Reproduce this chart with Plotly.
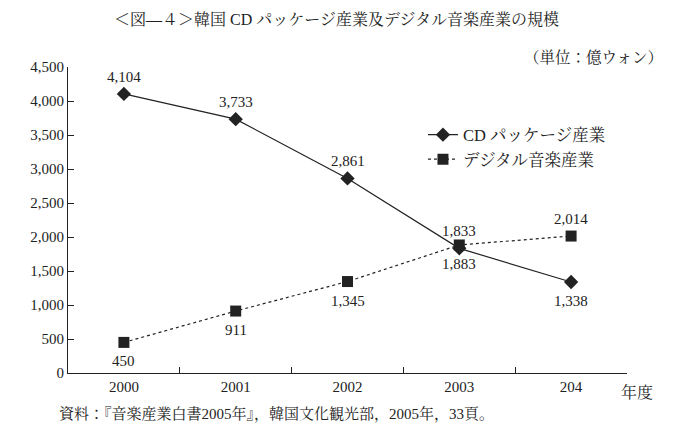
import plotly.graph_objects as go

years = ["2000", "2001", "2002", "2003", "204"]
cd_values = [4104, 3733, 2861, 1833, 1338]
digital_values = [450, 911, 1345, 1883, 2014]
cd_label_above = [True, True, True, True, False]
dg_label_above = [False, False, False, False, True]
y_ticks = [0, 500, 1000, 1500, 2000, 2500, 3000, 3500, 4000, 4500]

FONT = "Liberation Serif, Noto Serif CJK JP, Noto Sans CJK JP, serif"
INK = "#222222"

fig = go.Figure()
fig.add_trace(go.Scatter(
    x=years, y=cd_values, name="CD パッケージ産業",
    mode="lines+markers",
    line=dict(color=INK, width=1.2),
    marker=dict(symbol="diamond", size=11, color=INK),
    cliponaxis=False,
))
fig.add_trace(go.Scatter(
    x=years, y=digital_values, name="デジタル音楽産業",
    mode="lines+markers",
    line=dict(color=INK, width=1.2, dash="dot"),
    marker=dict(symbol="square", size=11, color=INK),
    cliponaxis=False,
))

annotations = []
for vals, above in ((cd_values, cd_label_above), (digital_values, dg_label_above)):
    for i, (v, a) in enumerate(zip(vals, above)):
        annotations.append(dict(
            x=i, y=v, xref="x", yref="y", text=f"{v:,}", showarrow=False,
            xanchor="center", yanchor="middle", yshift=17 if a else -19,
            font=dict(size=15, family=FONT, color=INK),
        ))

annotations += [
    dict(text="＜図―４＞韓国 CD パッケージ産業及デジタル音楽産業の規模",
         xref="paper", yref="paper", x=0.48, y=1.0, yshift=48,
         xanchor="center", yanchor="middle", showarrow=False,
         font=dict(size=16, family=FONT)),
    dict(text="（単位：億ウォン）",
         xref="paper", yref="paper", x=1.0, y=1.0, yshift=10, xshift=38,
         xanchor="right", yanchor="middle", showarrow=False,
         font=dict(size=15.5, family=FONT)),
    dict(text="年度",
         xref="paper", yref="paper", x=1.0, y=0, yshift=-19, xshift=-8,
         xanchor="left", yanchor="middle", showarrow=False,
         font=dict(size=16, family=FONT)),
    dict(text="資料：『音楽産業白書2005年』，韓国文化観光部，2005年，33頁。",
         xref="paper", yref="paper", x=0, y=0, yshift=-41, xshift=-11,
         xanchor="left", yanchor="middle", showarrow=False,
         font=dict(size=15, family=FONT)),
]

fig.update_layout(
    width=681, height=445,
    margin=dict(l=68, r=54, t=67, b=72),
    paper_bgcolor="white", plot_bgcolor="white",
    font=dict(family=FONT, color=INK, size=15),
    showlegend=True,
    legend=dict(x=0.635, y=0.835, xanchor="left", yanchor="top",
                bgcolor="rgba(0,0,0,0)", font=dict(size=16.5, family=FONT),
                itemwidth=30),
    xaxis=dict(
        type="category", showgrid=False, showline=True, linecolor=INK,
        linewidth=1.2, ticks="inside", ticklen=6, tickcolor=INK,
        tickson="boundaries", tickfont=dict(size=15, family=FONT),
        range=[-0.5, 4.5],
    ),
    yaxis=dict(
        range=[0, 4500], tickvals=y_ticks,
        ticktext=[f"{v:,}" for v in y_ticks],
        showgrid=False, showline=True, linecolor=INK, linewidth=1.2,
        ticks="inside", ticklen=6, tickcolor=INK,
        tickfont=dict(size=15, family=FONT), zeroline=False,
    ),
    annotations=annotations,
)

fig.write_html("out.html")
